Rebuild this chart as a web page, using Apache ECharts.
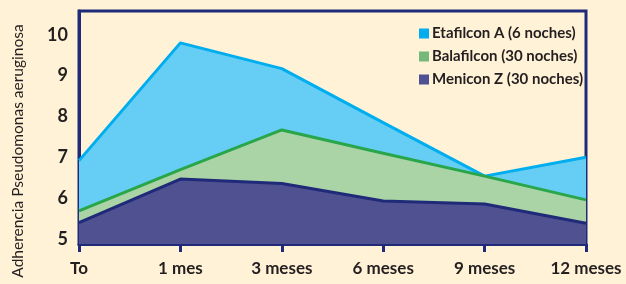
<!DOCTYPE html>
<html>
<head>
<meta charset="utf-8">
<script src="https://cdn.jsdelivr.net/npm/echarts@6/dist/echarts.min.js"></script>
<style>
  html, body { margin: 0; padding: 0; background: #FFF2D6; }
  #main { width: 626px; height: 284px; }
</style>
</head>
<body>
<div id="main"></div>
<script>
// periodos de uso
var categorias = ['To', '1 mes', '3 meses', '6 meses', '9 meses', '12 meses'];
var etafilcon = [6.92, 9.8, 9.17, 7.85, 6.54, 7.0];
var balafilcon = [5.69, 6.7, 7.67, 7.1, 6.54, 5.96];
var menicon = [5.4, 6.47, 6.36, 5.93, 5.86, 5.39];
var ticksY = [5, 6, 7, 8, 9, 10];
var nombres = ['Etafilcon A (6 noches)', 'Balafilcon (30 noches)', 'Menicon Z (30 noches)'];

var azul = '#1F2A78';
var texto = '#231F20';

var myChart = echarts.init(document.getElementById('main'), null, { renderer: 'canvas' });

function serie(nombre, datos, linea, relleno, z) {
    return {
        name: nombre,
        type: 'line',
        data: datos,
        showSymbol: false,
        symbol: 'none',
        z: z,
        lineStyle: { color: linea, width: 3 },
        itemStyle: { color: linea },
        areaStyle: { color: relleno, opacity: 1, origin: 'start' }
    };
}

var option = {
    backgroundColor: '#FFF2D6',
    animation: false,
    grid: {
        left: 79, right: 40, top: 11, bottom: 40,
        show: true,
        borderColor: azul,
        borderWidth: 3,
        backgroundColor: 'transparent'
    },
    legend: {
        orient: 'vertical',
        left: 414,
        top: 21,
        icon: 'rect',
        itemWidth: 10,
        itemHeight: 10,
        itemGap: 8,
        textStyle: {
            color: texto,
            fontFamily: 'Lato',
            fontWeight: 'bold',
            fontSize: 15,
            lineHeight: 15,
            padding: [0, 0, 0, -2]
        },
        data: [
            { name: nombres[0], itemStyle: { color: '#00AEEF' } },
            { name: nombres[1], itemStyle: { color: '#74B97A' } },
            { name: nombres[2], itemStyle: { color: '#4F5193' } }
        ]
    },
    xAxis: {
        type: 'category',
        boundaryGap: false,
        data: categorias,
        axisLine: { show: true, lineStyle: { color: azul, width: 3 } },
        axisTick: { show: true, inside: false, length: 8, lineStyle: { color: azul, width: 3 } },
        axisLabel: {
            color: texto,
            fontFamily: 'Lato',
            fontWeight: 'bold',
            fontSize: 17,
            margin: 16
        },
        splitLine: { show: false }
    },
    yAxis: {
        type: 'value',
        min: 4.88,
        max: 10.58,
        axisLine: { show: true, lineStyle: { color: azul, width: 3 } },
        axisTick: { show: false },
        splitLine: { show: false },
        axisLabel: {
            customValues: ticksY,
            color: texto,
            fontFamily: 'Lato',
            fontWeight: 'bold',
            fontSize: 18,
            margin: 11
        }
    },
    graphic: [{
        type: 'text',
        x: 18,
        y: 151,
        rotation: Math.PI / 2,
        style: {
            text: 'Adherencia Pseudomonas aeruginosa',
            fill: texto,
            font: '15.5px Lato',
            textAlign: 'center',
            textVerticalAlign: 'middle'
        }
    }],
    series: [
        serie(nombres[0], etafilcon, '#00AEEF', '#66CDF5', 2),
        serie(nombres[1], balafilcon, '#2AA64A', '#AAD3A6', 3),
        serie(nombres[2], menicon, '#1F2A78', '#4F5191', 4)
    ]
};

myChart.setOption(option, true);
</script>
</body>
</html>
